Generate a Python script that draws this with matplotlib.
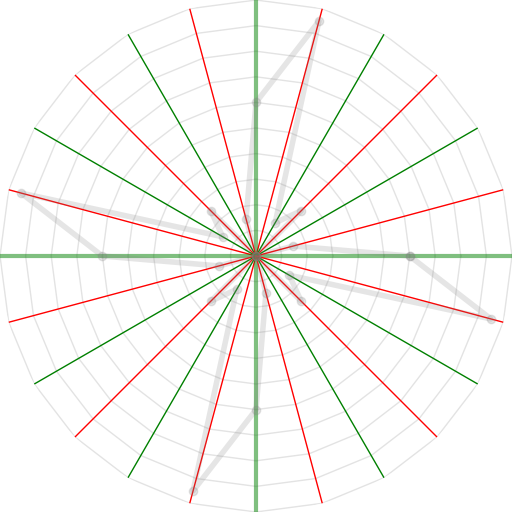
import numpy as np
import matplotlib
matplotlib.use("Agg")
import matplotlib.pyplot as plt

# spoke angles in degrees (every 15 deg) and their styles
spoke_deg = list(range(0, 360, 15))
# radar values, one per spoke (pattern repeats every 90 deg)
values = [0.60, 0.15, 0.00, 0.25, 0.15, 0.95,
          0.60, 0.15, 0.00, 0.25, 0.15, 0.95,
          0.60, 0.15, 0.00, 0.25, 0.15, 0.95,
          0.60, 0.15, 0.00, 0.25, 0.15, 0.95]
ring_levels = [0.1, 0.2, 0.3, 0.4, 0.5, 0.6, 0.7, 0.8, 0.9, 1.0]

fig = plt.figure(figsize=(5.12, 5.12), dpi=100)
ax = fig.add_axes([0, 0, 1, 1], projection="polar")
ax.set_ylim(0, 1)
ax.grid(False)
ax.set_xticks([]); ax.set_yticks([])
ax.spines["polar"].set_visible(False)

th = np.deg2rad(spoke_deg + [spoke_deg[0]])
# polygon grid rings
for lv in ring_levels:
    ax.plot(th, [lv] * len(th), color="#e3e3e3", lw=1, zorder=1)

# spokes
for d in spoke_deg:
    t = np.deg2rad(d)
    if d % 90 == 0:
        ax.plot([t, t], [0, 1], color="green", lw=3, alpha=0.5, zorder=2)
    elif d % 30 == 0:
        ax.plot([t, t], [0, 1], color="green", lw=1, zorder=2)
    else:
        ax.plot([t, t], [0, 1], color="red", lw=1, zorder=2)

# data series
ax.plot(th, values + [values[0]], color="gray", lw=4, alpha=0.2,
        marker="o", ms=6, zorder=3)

fig.savefig("out.png", dpi=100)
